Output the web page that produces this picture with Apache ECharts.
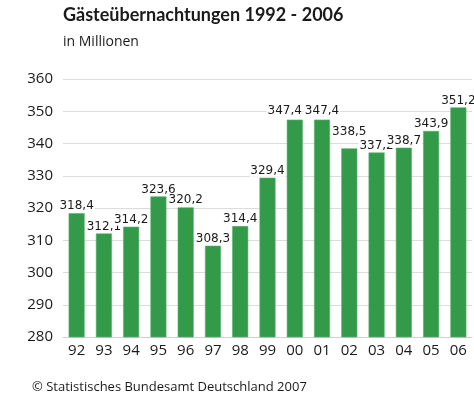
<!DOCTYPE html>
<html>
<head>
<meta charset="utf-8">
<script src="https://cdn.jsdelivr.net/npm/echarts@6/dist/echarts.min.js"></script>
<style>html,body{margin:0;padding:0;background:#fff;}#c{width:474px;height:396px;}</style>
</head>
<body>
<div id="c"></div>
<script>
const categories = ['92','93','94','95','96','97','98','99','00','01','02','03','04','05','06'];
const values = [318.4, 312.1, 314.2, 323.6, 320.2, 308.3, 314.4, 329.4, 347.4, 347.4, 338.5, 337.2, 338.7, 343.9, 351.2];
const yTicks = [280, 290, 300, 310, 320, 330, 340, 350, 360];

// label nudges to avoid collisions, as in the reference
const labelOffsets = {8: [-10, -2], 9: [0, -2], 10: [0, -9]};

const chart = echarts.init(document.getElementById('c'), null, {renderer: 'canvas'});
chart.setOption({
  animation: false,
  backgroundColor: '#fff',
  title: [
    {text: 'Gästeübernachtungen 1992 - 2006', left: 58, top: 1,
     textStyle: {fontFamily: 'Lato', fontSize: 18, fontWeight: 'bold', color: '#1a1a1a'}},
    {text: 'in Millionen', left: 58, top: 30,
     textStyle: {fontFamily: 'Open Sans', fontSize: 14, fontWeight: 'normal', color: '#1a1a1a'}},
    {text: '© Statistisches Bundesamt Deutschland 2007', left: 27, top: 376,
     textStyle: {fontFamily: 'Open Sans', fontSize: 13, fontWeight: 'normal', color: '#1a1a1a'}}
  ],
  grid: {left: 63, right: 2, top: 79, bottom: 59, containLabel: false},
  xAxis: {
    type: 'category', data: categories,
    axisLine: {show: true, lineStyle: {color: '#d0d0d0'}},
    axisTick: {show: false},
    axisLabel: {fontFamily: 'Open Sans', fontSize: 15, color: '#1a1a1a', margin: 6}
  },
  yAxis: {
    type: 'value', min: yTicks[0], max: yTicks[yTicks.length-1], interval: 10,
    axisLine: {show: false}, axisTick: {show: false},
    splitLine: {lineStyle: {color: '#dcdcdc'}},
    axisLabel: {fontFamily: 'Open Sans', fontSize: 15, color: '#1a1a1a', margin: 10}
  },
  series: [{
    type: 'bar',
    data: values.map((v, i) => labelOffsets[i] ? {value: v, label: {offset: labelOffsets[i]}} : v),
    barWidth: 16,
    itemStyle: {color: '#339a4a', borderColor: '#5cb06e', borderWidth: 0.6},
    label: {
      show: true, position: 'top', distance: 1,
      formatter: p => p.value.toFixed(1).replace('.', ','),
      fontFamily: 'DejaVu Sans', fontSize: 12, color: '#1a1a1a',
      backgroundColor: '#fff', padding: [1, 1, 0, 1]
    }
  }]
});
</script>
</body>
</html>
